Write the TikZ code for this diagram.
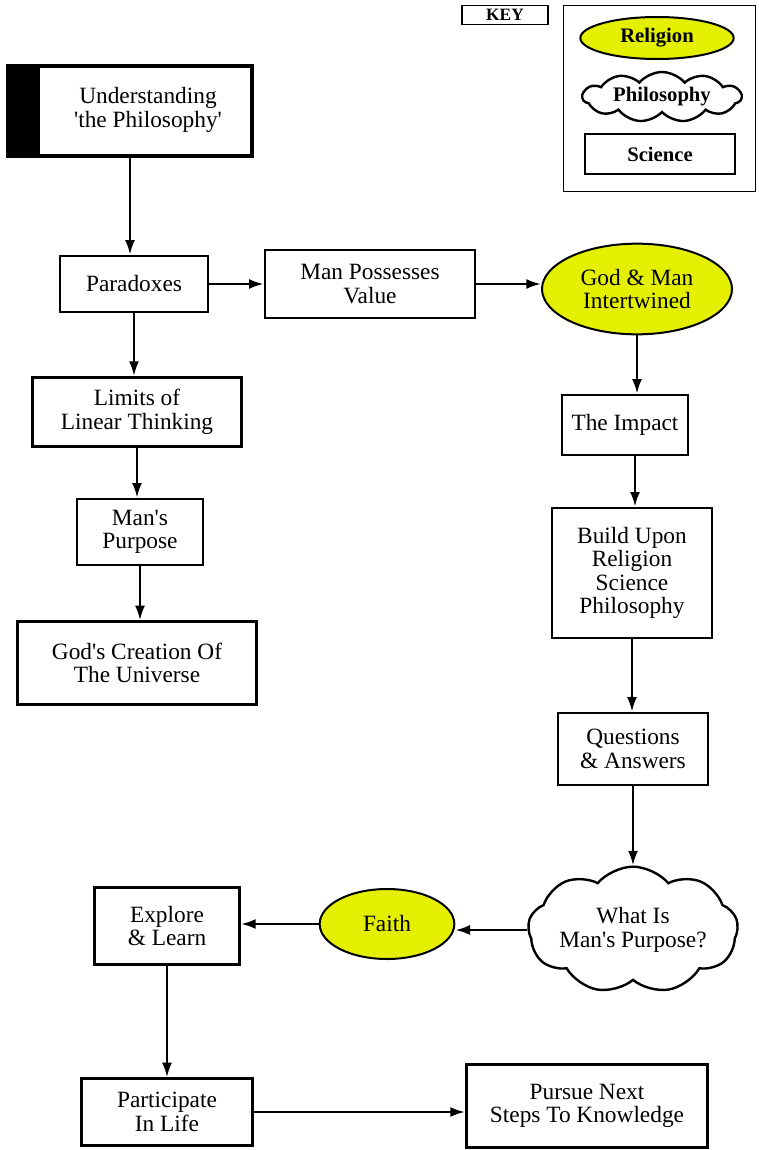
\documentclass[tikz,border=0pt]{standalone}
\usepackage{fontspec}
\setmainfont{Liberation Serif}
\usetikzlibrary{arrows.meta,shapes.geometric,shapes.symbols}
\definecolor{relyellow}{RGB}{228,240,0}
\newcommand{\sq}{\textquotesingle}

\begin{document}
\begin{tikzpicture}[x=0.75pt,y=-0.75pt,
		sci/.style={draw, line width=2pt, align=center, inner sep=0pt, font=\fontsize{17.5}{17.6}\selectfont},
		rel/.style={ellipse, draw, line width=1.5pt, fill=relyellow, align=center, inner sep=0pt, font=\fontsize{17.5}{17.6}\selectfont},
		phil/.style={cloud, cloud puffs=9, cloud puff arc=100, cloud ignores aspect, draw, line width=1.8pt, align=center, inner sep=0pt, font=\fontsize{17.5}{17.6}\selectfont},
		keytxt/.style={font=\bfseries\fontsize{15.5}{16}\selectfont},
		arr/.style={line width=1.8pt, -{Latex[length=11pt,width=7.5pt]}}]
		\useasboundingbox (0,0) rectangle (758,1150);

		% Key
		\node[draw, line width=0.8pt, minimum width=64.5pt, minimum height=14.25pt, inner sep=0pt, font=\bfseries\fontsize{13}{14}\selectfont] (keylbl) at (505,15) {KEY};
		\node[draw, line width=0.6pt, minimum width=144pt, minimum height=139.5pt] (keybox) at (659,98) {};
		\node[rel, minimum width=115pt, minimum height=31.5pt, keytxt] (keyrel) at (657,38) {Religion};
		\node[phil, cloud puffs=11, minimum width=119pt, minimum height=37.5pt, keytxt] (keyphil) at (662,97) {Philosophy};
		\node[sci, minimum width=112.5pt, minimum height=30pt, keytxt] (keysci) at (660,154) {Science};

		% Left column
		\node[draw, line width=3pt, minimum width=183pt, minimum height=67.5pt] (under) at (130,111) {};
		\fill (under.north west) rectangle ([xshift=25.5pt]under.south west);
		\node[align=center, font=\fontsize{17.5}{17.6}\selectfont] (undertxt) at (148,110) {Understanding\\\sq the Philosophy\sq};
		\node[sci, minimum width=111pt, minimum height=42pt] (para) at (134,284) {Paradoxes};
		\node[sci, minimum width=157pt, minimum height=52pt] (limits) at (137,412) {Limits of\\Linear Thinking};
		\node[sci, minimum width=94.5pt, minimum height=49.5pt] (purpose) at (140,532) {Man\sq s\\Purpose};
		\node[sci, minimum width=179pt, minimum height=62pt] (creation) at (137,663) {God\sq s Creation Of\\The Universe};

		% Top row
		\node[sci, minimum width=157.5pt, minimum height=51pt] (value) at (370,284) {Man Possesses\\Value};
		\node[rel, minimum width=142.5pt, minimum height=68pt] (godman) at (637,289) {God \& Man\\Intertwined};

		% Right column
		\node[sci, minimum width=94.5pt, minimum height=45pt] (impact) at (625,425) {The Impact};
		\node[sci, minimum width=120pt, minimum height=97.5pt] (build) at (632,573) {Build Upon\\Religion\\Science\\Philosophy};
		\node[sci, minimum width=112.5pt, minimum height=54pt] (qa) at (633,749) {Questions\\\& Answers};
		\node[phil, minimum width=157.5pt, minimum height=95pt] (whatis) at (633,930) {What Is\\Man\sq s Purpose?};

		% Bottom
		\node[rel, minimum width=101pt, minimum height=52.5pt] (faith) at (387,924) {Faith};
		\node[sci, minimum width=109pt, minimum height=58pt] (explore) at (167,926) {Explore\\\& Learn};
		\node[sci, minimum width=128pt, minimum height=50pt] (partic) at (167,1112) {Participate\\In Life};
		\node[sci, minimum width=181pt, minimum height=62pt] (pursue) at (587,1106) {Pursue Next\\Steps To Knowledge};

		% Arrows
		\draw[arr] (under.south) -- (under.south |- para.north);
		\draw[arr] (para.south) -- (para.south |- limits.north);
		\draw[arr] (limits.south) -- (limits.south |- purpose.north);
		\draw[arr] (purpose.south) -- (purpose.south |- creation.north);
		\draw[arr] (para.east) -- (para.east -| value.west);
		\draw[arr] (value.east) -- (value.east -| godman.west);
		\draw[arr] (godman.south) -- (godman.south |- impact.north);
		\draw[arr] ([xshift=7.5pt]impact.south) -- ([xshift=7.5pt]impact.south |- build.north);
		\draw[arr] (build.south) -- (build.south |- qa.north);
		\draw[arr] (qa.south) -- (qa.south |- whatis.north);
		\draw[arr] (whatis.west) -- (whatis.west -| faith.east);
		\draw[arr] (faith.west) -- (faith.west -| explore.east);
		\draw[arr] (explore.south) -- (explore.south |- partic.north);
		\draw[arr] (partic.east) -- (partic.east -| pursue.west);
	\end{tikzpicture}
\end{document}
